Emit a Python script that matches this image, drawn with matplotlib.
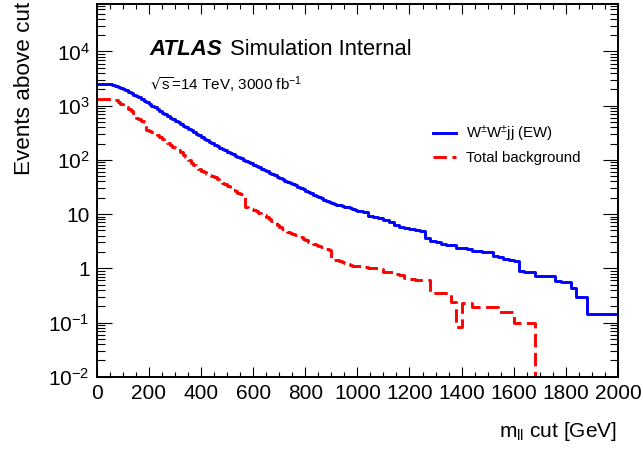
"""
Events above an m_ll cut, signal vs total background (ATLAS style)
"""

import numpy as np
import matplotlib
matplotlib.use("Agg")
import matplotlib.pyplot as plt
from matplotlib.ticker import FixedLocator, LogLocator, MultipleLocator, NullFormatter

plt.rcParams["font.family"] = ["Liberation Sans", "DejaVu Sans"]
plt.rcParams["mathtext.default"] = "regular"

# lower edge of each m_ll cut bin [GeV]: 10 GeV bins below 1 TeV, 20 GeV above
cut = list(range(0, 1000, 10)) + list(range(1000, 2000, 20))

sig = [2470, 2470, 2470, 2470, 2470, 2460, 2420, 2340, 2250, 2140,
       2020, 1910, 1800, 1700, 1600, 1510, 1420, 1330, 1240, 1160,
       1080, 1000, 930, 860, 800, 745, 695, 648, 605, 563,
       525, 492, 460, 430, 400, 374, 350, 327, 305, 285,
       265, 248, 232, 217, 203, 190, 178, 168, 158, 149,
       141, 133, 126, 119, 113, 107, 101, 96, 91, 86,
       81, 77, 73, 69, 65, 61.5, 58.5, 55, 52, 49,
       46, 43.5, 41.5, 39.5, 37.5, 35.5, 34, 32, 30.5, 28.5,
       27, 25.5, 24, 22.5, 21.5, 20.5, 19.5, 18.5, 17.5, 16.8,
       16.0, 15.5, 15.0, 14.7, 14.3, 13.8, 13.4, 13.0, 12.6, 12.1,
       # 20 GeV bins from 1000 GeV
       11.6, 10.9, 9.3, 8.9, 8.3, 7.8, 7.1, 6.4, 5.9, 5.5,
       5.2, 5.0, 4.8, 3.6, 3.2, 3.0, 2.85, 2.72, 2.68, 2.36,
       2.33, 2.3, 2.1, 2.05, 2.0, 1.97, 1.67, 1.62, 1.46, 1.44,
       1.35, 0.89, 0.87, 0.86, 0.73, 0.72, 0.72, 0.72, 0.58, 0.57,
       0.56, 0.44, 0.30, 0.29, 0.146, 0.146, 0.146, 0.146, 0.146, 0.146]

bkg = [1310, 1310, 1310, 1310, 1310, 1310, 1300, 1270, 1150, 1060,
       990, 930, 870, 810, 640, 600, 560, 525, 490, 356,
       340, 325, 310, 287, 265, 245, 225, 207, 190, 176,
       163, 152, 140, 125, 112, 100, 88, 80, 72, 67,
       63, 59, 56, 53, 50, 47.5, 45, 41.5, 38, 35.5,
       33, 30.5, 28, 26.5, 25, 23.2, 21.6, 13.5, 13.0, 12.5,
       12.0, 11.3, 10.6, 10.1, 9.6, 8.9, 8.2, 7.6, 7.0, 6.4,
       5.8, 5.4, 5.0, 4.75, 4.5, 4.3, 4.1, 3.9, 3.75, 3.5,
       3.3, 3.1, 2.95, 2.8, 2.65, 2.55, 2.45, 2.35, 2.25, 2.2,
       1.45, 1.42, 1.40, 1.35, 1.30, 1.25, 1.20, 1.16, 1.12, 1.10,
       # 20 GeV bins from 1000 GeV
       1.08, 1.05, 1.02, 1.0, 0.99, 0.87, 0.85, 0.80, 0.76, 0.66,
       0.64, 0.62, 0.61, 0.60, 0.345, 0.345, 0.345, 0.345, 0.24, 0.084,
       0.226, 0.226, 0.195, 0.195, 0.195, 0.195, 0.195, 0.158, 0.158, 0.158,
       0.10, 0.10, 0.10, 0.10, 0, 0, 0, 0, 0, 0,
       0, 0, 0, 0, 0, 0, 0, 0, 0, 0]

ymin, ymax = 1e-2, 7.5e4
ytick_vals = [1e-2, 1e-1, 1, 10, 1e2, 1e3, 1e4]
ytick_labels = ["$10^{-2}$", "$10^{-1}$", "1", "10", "$10^{2}$", "$10^{3}$", "$10^{4}$"]

fig = plt.figure(figsize=(6.43, 4.49), dpi=100)
ax = fig.add_axes([0.1504, 0.161, 0.8107, 0.830])

x = np.array(cut + [2000])
ys = np.array(sig + [sig[-1]])
yb = np.clip(np.array(bkg + [bkg[-1]], dtype=float), ymin, None)

ax.step(x, ys, where="post", color="#0000ff", lw=2.1, label="W$^{\\pm}$W$^{\\pm}$jj (EW)")
ax.step(x, yb, where="post", color="#ff0000", lw=2.1, dashes=(4.6, 1.9),
        label="Total background")

ax.set_yscale("log")
ax.set_xlim(0, 2000)
ax.set_ylim(ymin, ymax)

ax.xaxis.set_major_locator(MultipleLocator(200))
ax.xaxis.set_minor_locator(MultipleLocator(50))
ax.yaxis.set_major_locator(FixedLocator(ytick_vals))
ax.set_yticklabels(ytick_labels)
ax.yaxis.set_minor_locator(LogLocator(base=10, subs=np.arange(2, 10)))
ax.yaxis.set_minor_formatter(NullFormatter())

ax.tick_params(axis="both", which="both", direction="in", top=True, right=True,
               labelsize=15, width=0.8)
ax.tick_params(axis="x", which="major", length=7.5, pad=5)
ax.tick_params(axis="x", which="minor", length=3.8)
ax.tick_params(axis="y", which="major", length=11, pad=5)
ax.tick_params(axis="y", which="minor", length=5.5)
for sp in ax.spines.values():
    sp.set_linewidth(1.4)

fig.text(24 / 643, 1 - 2 / 449, "Events above cut", rotation=90,
         ha="center", va="top", fontsize=16.2)
fig.text(617 / 643, 1 - 437 / 449, "m$_{ll}$ cut [GeV]", ha="right",
         va="baseline", fontsize=15)

ax.text(0.102, 0.863, "ATLAS", transform=ax.transAxes, fontsize=16,
        fontweight="bold", fontstyle="italic", va="baseline")
ax.text(0.2557, 0.863, "Simulation Internal", transform=ax.transAxes,
        fontsize=15.8, va="baseline")
ax.text(0.102, 0.768, "$\\sqrt{s}$=14 TeV, 3000 fb$^{-1}$", transform=ax.transAxes,
        fontsize=11, va="baseline")

leg = ax.legend(loc="upper left", bbox_to_anchor=(433 / 643, 1 - 124 / 449),
                bbox_transform=fig.transFigure, frameon=False, fontsize=10.8,
                handlelength=1.55, handletextpad=0.65, borderpad=0,
                borderaxespad=0, labelspacing=0.45)

fig.savefig("out.png", dpi=100)
